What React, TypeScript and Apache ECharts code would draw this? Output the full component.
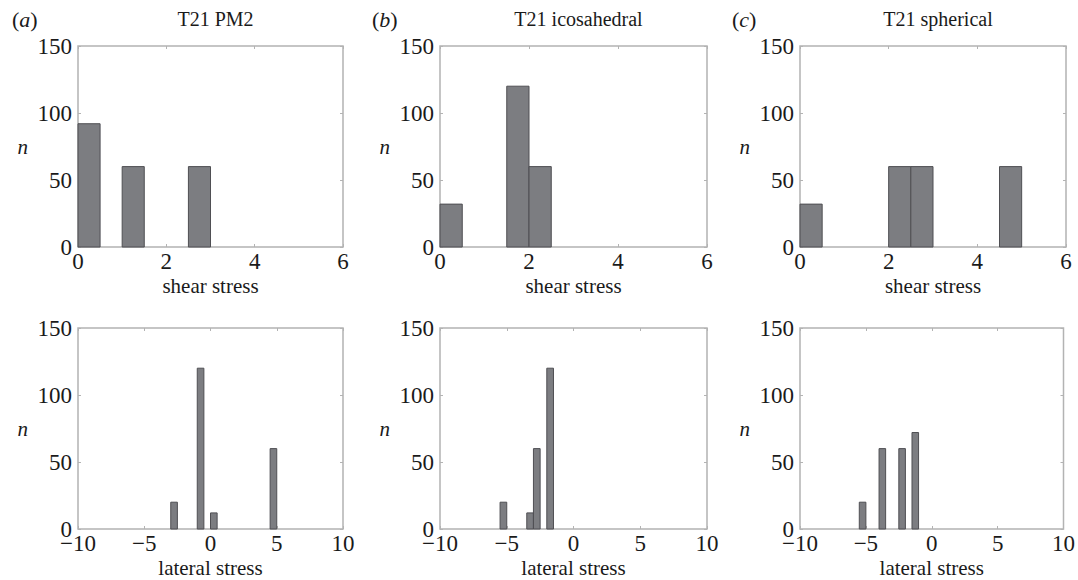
import React, { useEffect, useRef } from "react";
import * as echarts from "echarts";

// ---- data (bins of width BIN_WIDTH: start edges and counts) ----
const BIN_WIDTH = 0.5;
const pm2ShearStart = [0, 1, 2.5];
const pm2ShearCount = [92, 60, 60];
const icoShearStart = [0, 1.5, 2];
const icoShearCount = [32, 120, 60];
const sphShearStart = [0, 2, 2.5, 4.5];
const sphShearCount = [32, 60, 60, 60];
const pm2LatStart = [-3, -1, 0, 4.5];
const pm2LatCount = [20, 120, 12, 60];
const icoLatStart = [-5.5, -3.5, -3, -2];
const icoLatCount = [20, 12, 60, 120];
const sphLatStart = [-5.5, -4, -2.5, -1.5];
const sphLatCount = [20, 60, 60, 72];

const panelLetters = ["a", "b", "c"];
const panelTitles = ["T21 PM2", "T21 icosahedral", "T21 spherical"];
const xNames = ["shear stress", "lateral stress"];
const yName = "n";
const shearTicks = { min: 0, max: 6, interval: 2 };
const latTicks = { min: -10, max: 10, interval: 5 };
const countTicks = { min: 0, max: 150, interval: 50 };

const FONT = "'Liberation Serif', 'Times New Roman', serif";
const BAR_FILL = "#7c7d81";
const BAR_EDGE = "#4f4f53";
const FRAME = "#b3b3b3";
const TEXT = "#1a1a1a";

const colLeft = [78, 440, 800];
const colWidth = [265, 267, 266];
const rowTop = [46, 328];
const rowHeight = 201;

export default function App() {
  const ref = useRef<HTMLDivElement>(null);
  useEffect(() => {
    if (!ref.current) return;
    const chart = echarts.init(ref.current, null, { renderer: "svg" });

    const panels = [
      [pm2ShearStart, pm2ShearCount],
      [icoShearStart, icoShearCount],
      [sphShearStart, sphShearCount],
      [pm2LatStart, pm2LatCount],
      [icoLatStart, icoLatCount],
      [sphLatStart, sphLatCount],
    ];

    const grids: any[] = [];
    const xAxes: any[] = [];
    const yAxes: any[] = [];
    const series: any[] = [];
    const minus = (v: number) => String(v).replace("-", "\u2212");

    panels.forEach((p, i) => {
      const row = Math.floor(i / 3);
      const col = i % 3;
      grids.push({
        left: colLeft[col],
        top: rowTop[row],
        width: colWidth[col],
        height: rowHeight,
        show: true,
        borderColor: FRAME,
        borderWidth: 1.5,
        backgroundColor: "#fff",
      });
      const xt = row === 0 ? shearTicks : latTicks;
      const tickStyle = { show: true, inside: true, length: 3, lineStyle: { color: FRAME, width: 1 } };
      const noLine = { show: false, onZero: false };
      xAxes.push({
        type: "value",
        gridIndex: i,
        position: "bottom",
        min: xt.min,
        max: xt.max,
        interval: xt.interval,
        axisLine: noLine,
        axisTick: tickStyle,
        splitLine: { show: false },
        axisLabel: { color: TEXT, fontFamily: FONT, fontSize: 23, margin: 3, formatter: minus },
        name: xNames[row],
        nameLocation: "middle",
        nameGap: 28,
        nameTextStyle: { color: TEXT, fontFamily: FONT, fontSize: 21 },
      });
      xAxes.push({
        type: "value",
        gridIndex: i,
        position: "top",
        min: xt.min,
        max: xt.max,
        interval: xt.interval,
        axisLine: noLine,
        axisTick: tickStyle,
        splitLine: { show: false },
        axisLabel: { show: false },
      });
      yAxes.push({
        type: "value",
        gridIndex: i,
        position: "left",
        min: countTicks.min,
        max: countTicks.max,
        interval: countTicks.interval,
        axisLine: noLine,
        axisTick: tickStyle,
        splitLine: { show: false },
        axisLabel: { color: TEXT, fontFamily: FONT, fontSize: 23, margin: 6 },
        name: yName,
        nameLocation: "middle",
        nameRotate: 0,
        nameGap: 50,
        nameTextStyle: { color: TEXT, fontFamily: FONT, fontSize: 21, fontStyle: "italic" },
      });
      yAxes.push({
        type: "value",
        gridIndex: i,
        position: "right",
        min: countTicks.min,
        max: countTicks.max,
        interval: countTicks.interval,
        axisLine: noLine,
        axisTick: tickStyle,
        splitLine: { show: false },
        axisLabel: { show: false },
      });
      const starts = p[0] as number[];
      const counts = p[1] as number[];
      series.push({
        type: "custom",
        xAxisIndex: i * 2,
        yAxisIndex: i * 2,
        encode: { x: [0, 1], y: 2 },
        data: starts.map((s, k) => [s, s + BIN_WIDTH, counts[k]]),
        renderItem: (params: any, api: any) => {
          const p0 = api.coord([api.value(0), api.value(2)]);
          const p1 = api.coord([api.value(1), 0]);
          return {
            type: "rect",
            shape: { x: p0[0], y: p0[1], width: p1[0] - p0[0], height: p1[1] - p0[1] },
            style: { fill: BAR_FILL, stroke: BAR_EDGE, lineWidth: 1 },
          };
        },
      });
    });

    const titles: any[] = [];
    panelLetters.forEach((letter, col) => {
      titles.push({
        text: `{p|(}{i|${letter}}{p|)}`,
        left: col === 0 ? 7 : colLeft[col] - 73,
        top: 3,
        textStyle: {
          rich: {
            p: { fontFamily: FONT, fontSize: 22, color: TEXT, fontWeight: "normal" },
            i: { fontFamily: FONT, fontSize: 22, color: TEXT, fontStyle: "italic", fontWeight: "normal" },
          },
        },
      });
      titles.push({
        text: panelTitles[col],
        left: colLeft[col] + colWidth[col] / 2,
        textAlign: "center",
        top: 4,
        textStyle: { fontFamily: FONT, fontSize: 20, fontWeight: "normal", color: TEXT },
      });
    });

    chart.setOption({
      animation: false,
      backgroundColor: "#fff",
      title: titles,
      grid: grids,
      xAxis: xAxes,
      yAxis: yAxes,
      series,
    });
    return () => chart.dispose();
  }, []);
  return (
    <div
      ref={ref}
      style={{ position: "fixed", left: 0, top: 0, width: 1078, height: 580, background: "#fff" }}
    />
  );
}
